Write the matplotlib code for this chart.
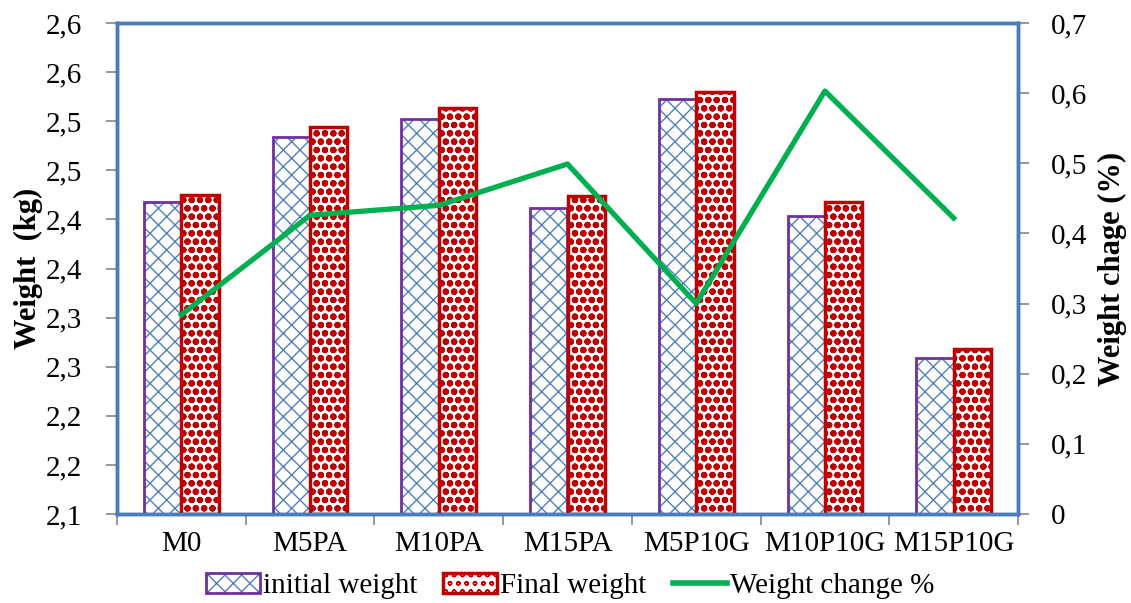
import numpy as np
import matplotlib.pyplot as plt
from matplotlib.patches import Patch
from matplotlib.lines import Line2D
from matplotlib.legend_handler import HandlerTuple

plt.rcParams['font.family'] = ['Liberation Serif', 'DejaVu Serif']

# data
categories = ['M0', 'M5PA', 'M10PA', 'M15PA', 'M5P10G', 'M10P10G', 'M15P10G']
initial_weight = [2.418, 2.484, 2.502, 2.412, 2.523, 2.403, 2.259]
final_weight = [2.425, 2.494, 2.513, 2.424, 2.530, 2.418, 2.268]
weight_change = [0.284, 0.426, 0.440, 0.499, 0.300, 0.603, 0.422]

blue = '#4a7ebb'
purple = '#7030a0'
red = '#c00000'
green = '#00b050'
gray = '#868686'

fig = plt.figure(figsize=(11.31, 6.03), dpi=100)
ax = fig.add_axes([117/1131, 1-514/603, (1018-117)/1131, (514-23)/603])

x = np.arange(len(categories))
w = 0.29

# initial weight: blue cross hatch, purple outline
ax.bar(x - w/2, np.array(initial_weight) - 2.1, w, bottom=2.1, facecolor='white',
       edgecolor='#4f81bd', hatch='xx', linewidth=0, zorder=2)
ax.bar(x - w/2, np.array(initial_weight) - 2.1, w, bottom=2.1, fill=False,
       edgecolor=purple, linewidth=2, zorder=3)

# final weight: red dots
with plt.rc_context({'hatch.linewidth': 2.2}):
    ax.bar(x + w/2, np.array(final_weight) - 2.1, w, bottom=2.1, facecolor='white',
           edgecolor=red, hatch='oo', linewidth=0, zorder=2)
ax.bar(x + w/2, np.array(final_weight) - 2.1, w, bottom=2.1, fill=False,
       edgecolor=red, linewidth=2.5, zorder=3)

ax.set_xlim(-0.5, len(categories) - 0.5)
ax.set_ylim(2.1, 2.6)
yt = np.arange(2.1, 2.6001, 0.05)
ax.set_yticks(yt)
ax.set_yticklabels([f"{v + 1e-9:.1f}".replace('.', ',') for v in yt])
ax.set_xticks(x)
ax.set_xticklabels(categories)
ax.set_xticks(np.arange(-0.5, len(categories), 1), minor=True)
ax.tick_params(axis='x', which='major', length=0, pad=12, labelsize=21)
ax.tick_params(axis='x', which='minor', length=8, color=gray, width=1.2)
ax.tick_params(axis='y', length=8, color=gray, width=1.2, pad=17, labelsize=21)
ax.set_ylabel('Weight  (kg)', fontsize=22, fontweight='bold', labelpad=2)

ax2 = ax.twinx()
ax2.plot(x, weight_change, color=green, linewidth=3.8, zorder=4)
ax2.set_ylim(0, 0.7)
rt = np.arange(0, 0.7001, 0.1)
ax2.set_yticks(rt)
ax2.set_yticklabels(['0'] + [f"{v:.1f}".replace('.', ',') for v in rt[1:]])
ax2.tick_params(axis='y', length=8, color=gray, width=1.2, pad=16, labelsize=21)
ax2.set_ylabel('Weight chage (%)', fontsize=22, fontweight='bold', labelpad=7)

for a in (ax, ax2):
    for s in a.spines.values():
        s.set_color(blue)
        s.set_linewidth(2.5)

h1 = (Patch(facecolor='white', edgecolor='#4f81bd', hatch='xx', linewidth=0),
      Patch(fill=False, edgecolor=purple, linewidth=2))
with plt.rc_context({'hatch.linewidth': 2.2}):
    h2a = Patch(facecolor='white', edgecolor=red, hatch='oo', linewidth=0)
h2 = (h2a, Patch(fill=False, edgecolor=red, linewidth=2.5))
h3 = Line2D([], [], color=green, linewidth=4)
fig.legend([h1, h2, h3], ['initial weight', 'Final weight', 'Weight change %'],
           handler_map={tuple: HandlerTuple(ndivide=1)},
           loc='center', bbox_to_anchor=(570/1131, 1-586/603), ncol=3,
           frameon=False, fontsize=21, handlelength=1.85, handletextpad=0.1,
           columnspacing=0.9)

fig.savefig('out.png', dpi=100)
